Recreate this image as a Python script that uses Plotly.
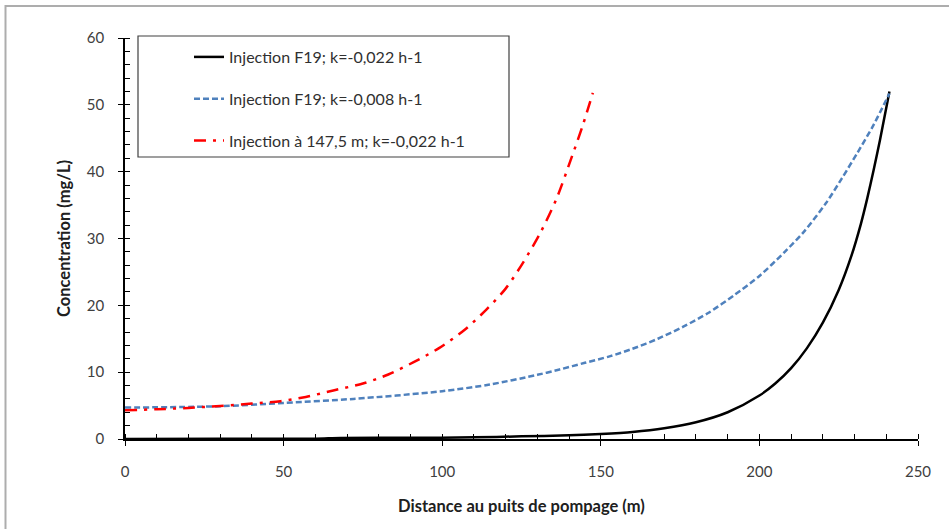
import plotly.graph_objects as go

# Data
black_x = [0, 30, 60, 68, 90, 110, 125, 140, 150, 160, 170, 180, 190, 200, 205, 210, 215, 220, 225, 229, 232, 234, 236, 238, 241]
black_y = [0.0, 0.02, 0.05, 0.15, 0.18, 0.25, 0.4, 0.55, 0.75, 1.05, 1.6, 2.5, 4.0, 6.5, 8.3, 10.6, 13.6, 17.4, 22.3, 27.4, 32.2, 36.0, 40.2, 44.7, 52.0]

blue_x = [0, 30, 50, 72, 100, 115, 130, 137, 145, 153, 160, 168, 176, 184, 192, 200, 208, 214, 221, 226, 231, 236, 241]
blue_y = [4.7, 4.9, 5.4, 6.0, 7.15, 8.15, 9.6, 10.4, 11.4, 12.4, 13.5, 15.0, 16.8, 18.9, 21.5, 24.4, 28.0, 31.0, 35.3, 39.0, 42.9, 47.0, 51.7]

red_x = [0, 10, 20, 30, 40, 49, 57, 66, 75, 83, 91, 99, 107, 114, 120, 125.5, 131, 136, 141, 144.3, 147.5]
red_y = [4.3, 4.45, 4.65, 4.95, 5.3, 5.65, 6.3, 7.3, 8.3, 9.65, 11.5, 13.6, 16.3, 19.4, 22.5, 26.4, 30.9, 35.9, 42.4, 46.9, 51.8]

names = ["Injection F19; k=-0,022 h-1",
         "Injection F19; k=-0,008 h-1",
         "Injection à 147,5 m; k=-0,022 h-1"]

x_title = "Distance au puits de pompage (m)"
y_title = "Concentration (mg/L)"

FONT = "Lato, Open Sans, sans-serif"
W, H = 949, 529
ML, MR, MT, MB = 125, 31, 38, 90
PW, PH = W - ML - MR, H - MT - MB

def px_x(p):
    return (p - ML) / PW

def px_y(p):
    return (H - MB - p) / PH

fig = go.Figure()
fig.add_trace(go.Scatter(x=black_x, y=black_y, mode="lines", name=names[0], legendgroup="a",
                         line=dict(color="#000000", width=2.5, shape="spline", smoothing=0.8)))
fig.add_trace(go.Scatter(x=blue_x, y=blue_y, mode="lines", name=names[1], legendgroup="b",
                         line=dict(color="#4f81bd", width=2.5, dash="6px,3px", shape="spline", smoothing=0.8)))
fig.add_trace(go.Scatter(x=red_x, y=red_y, mode="lines", name=names[2], legendgroup="c",
                         line=dict(color="#ff0000", width=2.5, dash="12px,7px,3px,7px", shape="spline", smoothing=0.8)))

axis_common = dict(showgrid=False, zeroline=False, showline=True, linecolor="#000000", linewidth=1.5,
                   ticks="outside", ticklen=5, tickwidth=1, tickcolor="#000000",
                   tickfont=dict(family=FONT, size=15, color="#404040"))

fig.update_layout(
    width=W, height=H,
    margin=dict(l=ML, r=MR, t=MT, b=MB),
    paper_bgcolor="white", plot_bgcolor="white",
    font=dict(family=FONT, size=15, color="#404040"),
    xaxis=dict(range=[0, 250], dtick=50, tick0=0,
               minor=dict(dtick=10, ticks="inside", ticklen=5, tickcolor="#000000", tickwidth=1),
               ticklabelstandoff=13,
               title=dict(text="<b>" + x_title + "</b>", font=dict(family=FONT, size=16.5, color="#202020"), standoff=22),
               **axis_common),
    yaxis=dict(range=[0, 60], dtick=10, tick0=0,
               minor=dict(dtick=2, ticks="inside", ticklen=5, tickcolor="#000000", tickwidth=1),
               ticklabelstandoff=11,
               title=dict(text="<b>" + y_title + "</b>", font=dict(family=FONT, size=16.5, color="#202020"), standoff=12),
               **axis_common),
    xaxis2=dict(overlaying="x", range=[0, 250], dtick=50, tick0=0, ticks="inside", ticklen=5,
                tickcolor="#000000", showticklabels=False, showline=False, showgrid=False, zeroline=False,
                side="bottom", anchor="y"),
    yaxis2=dict(overlaying="y", range=[0, 60], dtick=10, tick0=0, ticks="inside", ticklen=5,
                tickcolor="#000000", showticklabels=False, showline=False, showgrid=False, zeroline=False,
                side="left", anchor="x"),
    showlegend=True,
    legend=dict(x=px_x(189), y=px_y(40), xanchor="left", yanchor="top",
                bgcolor="rgba(0,0,0,0)", borderwidth=0, tracegroupgap=18,
                font=dict(family=FONT, size=16, color="#303030")),
    shapes=[
        dict(type="rect", xref="paper", yref="paper",
             x0=px_x(138), x1=px_x(509), y0=px_y(157), y1=px_y(36),
             line=dict(color="#404040", width=1.2), fillcolor="white", layer="below"),
        dict(type="rect", xref="paper", yref="paper",
             x0=px_x(5.5), x1=px_x(1000), y0=px_y(600), y1=px_y(6),
             line=dict(color="#adadad", width=2), fillcolor="rgba(0,0,0,0)", layer="below"),
    ],
)

# invisible helper trace so the overlay axes (crossing major ticks) are drawn
fig.add_trace(go.Scatter(x=[None], y=[None], xaxis="x2", yaxis="y2", showlegend=False, hoverinfo="skip"))

fig.write_html("out.html", config={"displayModeBar": False},
               post_script="document.body.style.margin='0';document.body.style.overflow='hidden';")
